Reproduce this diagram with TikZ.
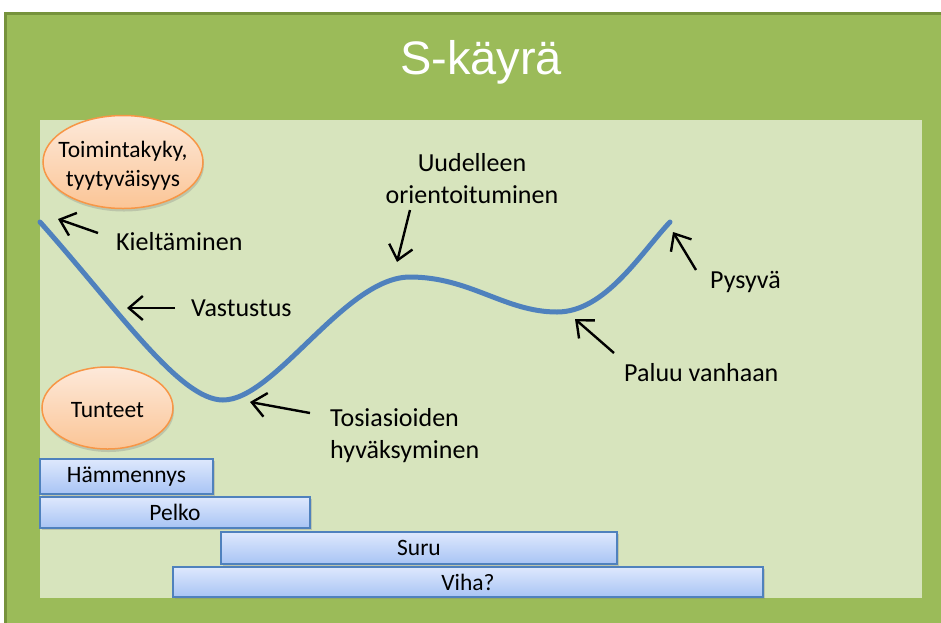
\documentclass[tikz,border=0pt]{standalone}
\usepackage{fontspec}
\setmainfont{Carlito}
\newfontfamily\titlefont{Liberation Sans}
\usetikzlibrary{arrows.meta, shapes.geometric, shadows}
\definecolor{framegreen}{HTML}{9BBB59}
\definecolor{framedark}{HTML}{76923C}
\definecolor{panelgreen}{HTML}{D7E4BD}
\definecolor{curveblue}{HTML}{4F81BD}
\definecolor{peachtop}{HTML}{FDE9DA}
\definecolor{peachbot}{HTML}{FBC596}
\definecolor{peachline}{HTML}{F79646}
\definecolor{bartop}{HTML}{DEE8FD}
\definecolor{barbot}{HTML}{A8C4F4}
\tikzset{
	x=1pt, y=-1pt, % pixel-like units, y pointing down
	>={Straight Barb[length=14pt,width=24pt]}, % open arrow heads
	pointer/.style={->, line width=2.4pt, black}, % arrows from the labels to the curve
	scurve/.style={curveblue, line width=5pt, line cap=round}, % the S-curve itself
	phase/.style={font=\fontsize{26}{32}\selectfont, align=left, inner sep=0pt}, % labels along the curve
	bubble/.style={ellipse, draw=peachline, line width=1.5pt, top color=peachtop, bottom color=peachbot,
		inner sep=0pt, drop shadow={shadow xshift=1pt, shadow yshift=-3pt, opacity=0.3}}, % orange headings
	bubbletext/.style={align=center, inner sep=0pt, font=\fontsize{23.5}{29}\selectfont}, % text in a heading
	feeling/.style={rectangle, draw=curveblue, line width=1.5pt, top color=bartop, bottom color=barbot,
		minimum height=32pt, inner sep=0pt, font=\fontsize{23.5}{28}\selectfont,
		drop shadow={shadow xshift=1.5pt, shadow yshift=-2pt, opacity=0.3}}, % emotion bars
}

\begin{document}
\begin{tikzpicture}
	\useasboundingbox (0,0) rectangle (941,622);
	\fill[white] (0,0) rectangle (941,622);
	% frame and panel
	\fill[framegreen] (4,12) rectangle (960,640);
	\draw[framedark, line width=3pt] (5.5,640) |- (960,13.5);
	\fill[panelgreen] (40,120) rectangle (922,598);
	\node[text=white, font=\titlefont\fontsize{47}{56}\selectfont] (title) at (481,62) {S-käyrä};
	
	% headings
	\node[bubble, minimum width=160pt, minimum height=93pt,
		label={[bubbletext, yshift=-4pt]center:{Toimintakyky,\\tyytyväisyys}}] (toimintakyky) at (123,162) {};
	\node[bubble, minimum width=131pt, minimum height=82pt,
		label={[bubbletext, yshift=-2pt]center:Tunteet}] (tunteet) at (107.5,408) {};
	
	% the curve
	\draw[scurve] (40,222) .. controls (120,312) and (180,400) .. (223,400)
		.. controls (275,400) and (345,277) .. (410,277)
		.. controls (470,277) and (505,312) .. (557,312)
		.. controls (605,312) and (640,254) .. (670,222);
	
	% labels
	\node[phase, anchor=west] (kieltaminen) at (116,242) {Kieltäminen};
	\node[phase, anchor=west] (vastustus) at (191,308) {Vastustus};
	\node[phase, anchor=west] (tosiasioiden) at (330,436) {Tosiasioiden\\hyväksyminen};
	\node[phase, align=center] (uudelleen) at (472,179) {Uudelleen\\orientoituminen};
	\node[phase, anchor=west] (paluu) at (624,373) {Paluu vanhaan};
	\node[phase, anchor=west] (pysyva) at (710,282) {Pysyvä};
	
	% arrow ends
	\coordinate (kieltail) at (98,233);   \coordinate (kieltip) at (58,219);
	\coordinate (vasttail) at (175,308);  \coordinate (vasttip) at (127,308);
	\coordinate (tositail) at (310,413);  \coordinate (tositip) at (250,402);
	\coordinate (uudtail) at (410,210);   \coordinate (uudtip) at (397,262);
	\coordinate (palutail) at (614,353);  \coordinate (palutip) at (575,319);
	\coordinate (pysytail) at (696,270);  \coordinate (pysytip) at (673,232);
	\foreach \a in {kiel, vast, tosi, uud, palu, pysy}
		\draw[pointer] (\a tail) -- (\a tip);
	
	% emotion bars
	\node[feeling, minimum width=173pt, minimum height=35pt] (hammennys) at (126.5,476.5) {Hämmennys};
	\node[feeling, minimum width=270pt, minimum height=31pt] (pelko) at (175,512.5) {Pelko};
	\node[feeling, minimum width=396pt] (suru) at (419,548) {Suru};
	\node[feeling, minimum width=590pt, minimum height=30pt] (viha) at (468,582) {Viha?};
\end{tikzpicture}
\end{document}
